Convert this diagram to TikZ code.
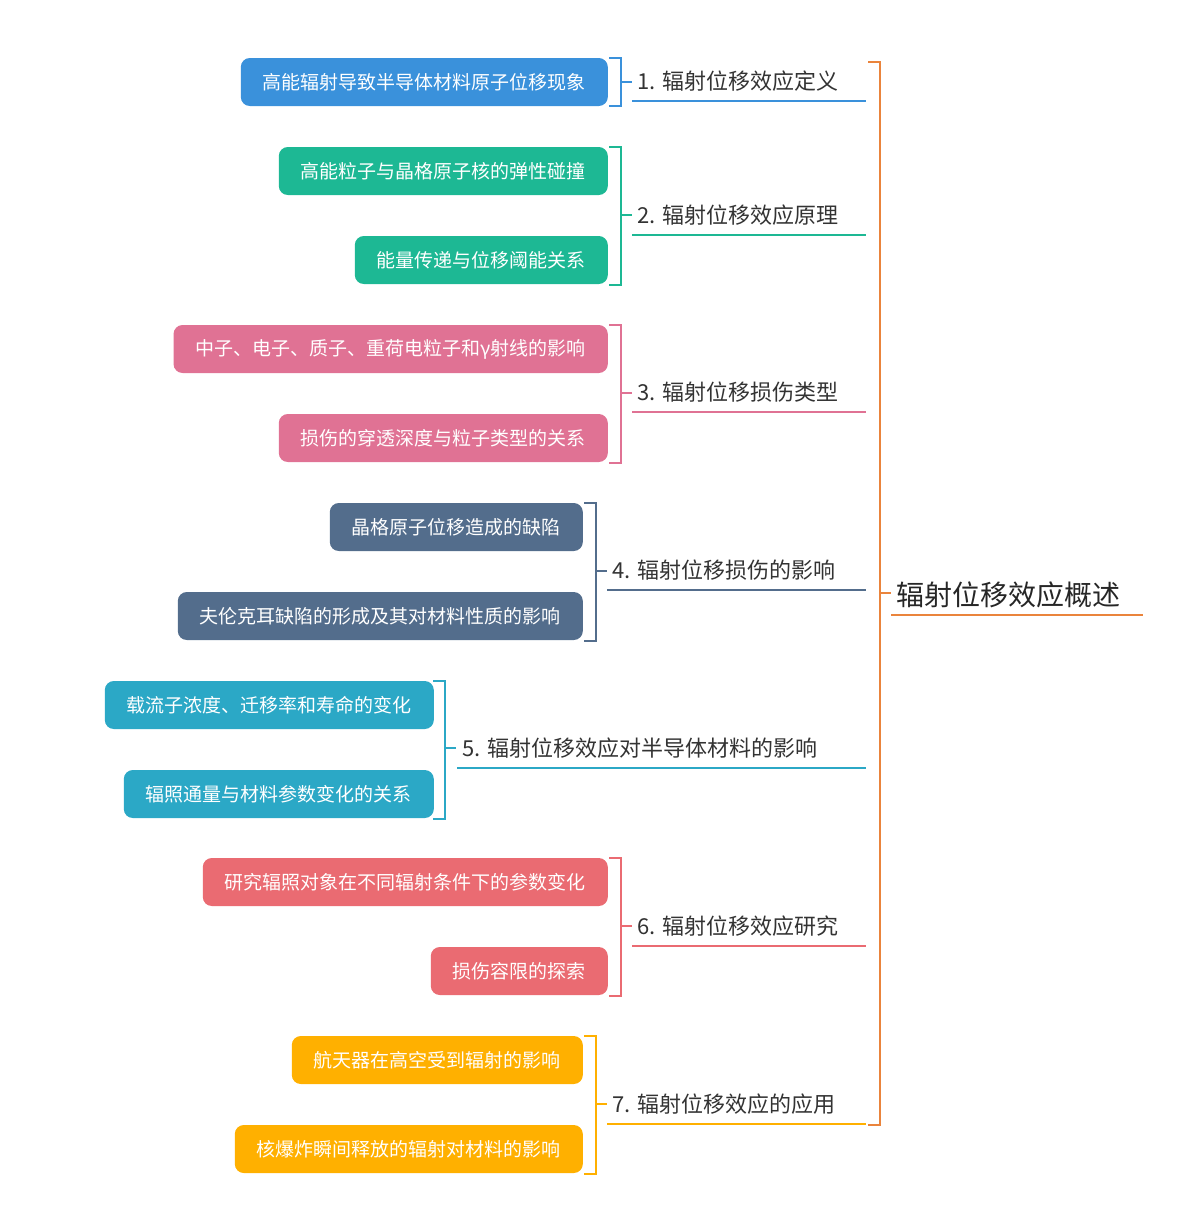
\documentclass[tikz,border=0pt]{standalone}
\usepackage{fontspec}
\setmainfont{Noto Sans CJK SC}
\begin{document}
\begin{tikzpicture}[x=1pt,y=-1pt,
 leaf/.style={fill=#1,rounded corners=9pt,text=white,font=\fontsize{19}{19}\selectfont,minimum height=48pt,inner xsep=22pt,anchor=east},
 blab/.style={anchor=south west,inner sep=0pt,text=black!80,font=\fontsize{22}{22}\selectfont},
 br/.style={draw=#1,line width=1.6pt}]
\useasboundingbox (0,0) rectangle (1200,1232);
\definecolor{c1}{HTML}{3A91DB}\definecolor{c2}{HTML}{1DB894}\definecolor{c3}{HTML}{E07294}
\definecolor{c4}{HTML}{536D8C}\definecolor{c5}{HTML}{2BA8C6}\definecolor{c6}{HTML}{EA6B72}
\definecolor{c7}{HTML}{FFB000}\definecolor{co}{HTML}{EA843C}
% root
\node[blab,font=\fontsize{28}{28}\selectfont,text=black!85] (root) at (896,608) {辐射位移效应概述};
\draw[br=co] (891,615) -- (1143,615);
\draw[br=co] (868,62) -- (880,62) -- (880,1125) -- (868,1125);
\draw[br=co] (880,593) -- (891,593);
% branches: label, underline
\newcommand\branch[5]{% name color x ybase text
 \node[blab] (#1) at (#3+5,#4-9) {#5};
 \draw[br=#2] (#3,#4) -- (866,#4);}
\branch{b1}{c1}{632}{101}{1. 辐射位移效应定义}
\branch{b2}{c2}{632}{235}{2. 辐射位移效应原理}
\branch{b3}{c3}{632}{412}{3. 辐射位移损伤类型}
\branch{b4}{c4}{607}{590}{4. 辐射位移损伤的影响}
\branch{b5}{c5}{457}{768}{5. 辐射位移效应对半导体材料的影响}
\branch{b6}{c6}{632}{946}{6. 辐射位移效应研究}
\branch{b7}{c7}{607}{1124}{7. 辐射位移效应的应用}
% brackets
\newcommand\brk[5]{% color x ytop ybot ymid
 \draw[br=#1] (#2-12,#3) -- (#2,#3) -- (#2,#4) -- (#2-12,#4);
 \draw[br=#1] (#2,#5) -- (#2+11,#5);}
\brk{c1}{621}{58}{106}{82}
\brk{c2}{621}{147}{285}{215}
\brk{c3}{621}{325}{463}{393}
\brk{c4}{596}{503}{641}{571}
\brk{c5}{445}{681}{819}{748}
\brk{c6}{621}{858}{996}{926}
\brk{c7}{596}{1036}{1174}{1104}
% leaves
\node[leaf=c1] (l1) at (608,82) {高能辐射导致半导体材料原子位移现象};
\node[leaf=c2] (l2a) at (608,171) {高能粒子与晶格原子核的弹性碰撞};
\node[leaf=c2] (l2b) at (608,260) {能量传递与位移阈能关系};
\node[leaf=c3] (l3a) at (608,349) {中子、电子、质子、重荷电粒子和γ射线的影响};
\node[leaf=c3] (l3b) at (608,438) {损伤的穿透深度与粒子类型的关系};
\node[leaf=c4] (l4a) at (583,527) {晶格原子位移造成的缺陷};
\node[leaf=c4] (l4b) at (583,616) {夫伦克耳缺陷的形成及其对材料性质的影响};
\node[leaf=c5] (l5a) at (434,705) {载流子浓度、迁移率和寿命的变化};
\node[leaf=c5] (l5b) at (434,794) {辐照通量与材料参数变化的关系};
\node[leaf=c6] (l6a) at (608,882) {研究辐照对象在不同辐射条件下的参数变化};
\node[leaf=c6] (l6b) at (608,971) {损伤容限的探索};
\node[leaf=c7] (l7a) at (583,1060) {航天器在高空受到辐射的影响};
\node[leaf=c7] (l7b) at (583,1149) {核爆炸瞬间释放的辐射对材料的影响};
\end{tikzpicture}
\end{document}
